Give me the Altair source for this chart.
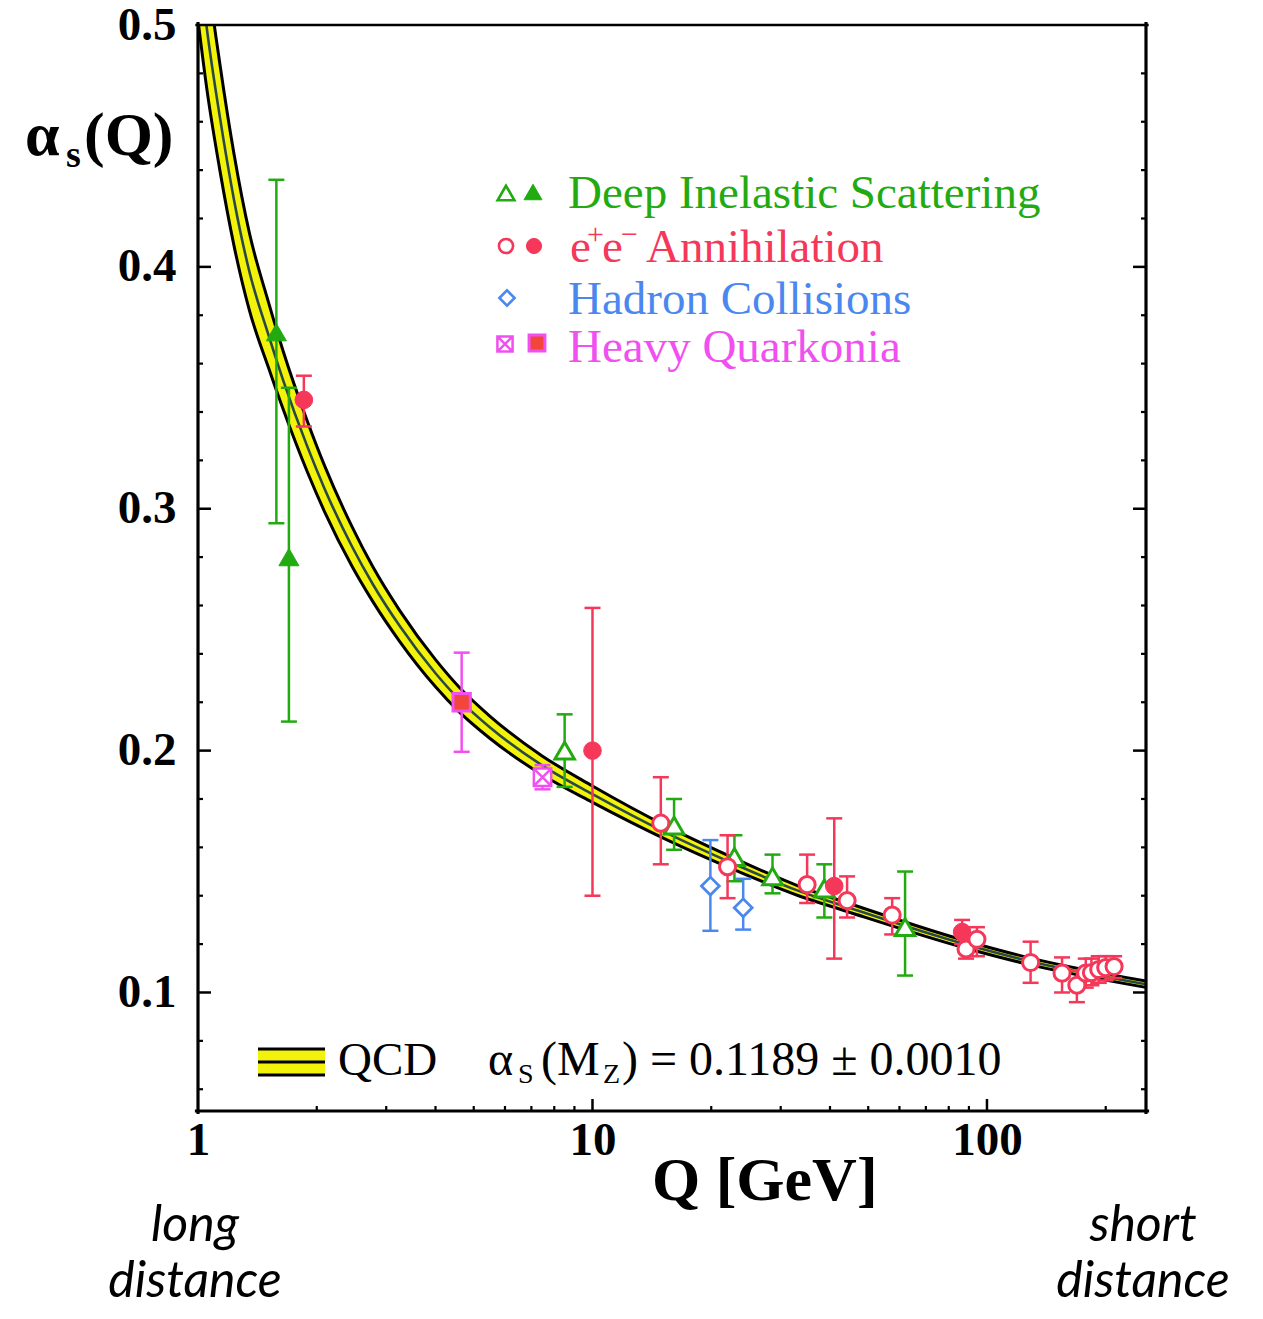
import altair as alt
import pandas as pd

W, H = 948, 1086
Q_DOMAIN = [1.0, 253.0]
A_DOMAIN = [0.051, 0.5]

GREEN = "#22aa11"
RED = "#f5385a"
BLUE = "#4a88f0"
MAGENTA = "#f050f0"
QFILL = "#f2463c"
YELLOW = "#f2f20a"
TEAL = "#2a4848"

# ---- QCD band ----
curve_q = [1.0, 1.052, 1.136, 1.233, 1.35, 1.508, 1.645, 1.89, 2.097, 2.455, 2.77, 3.25,
           4.0, 4.6, 5.5, 7.47, 10.0, 15.4, 22.6, 33.3, 43.8, 88.5, 129.0, 253.0]
curve_alpha = [0.530, 0.499, 0.462, 0.428, 0.398, 0.372, 0.353, 0.326, 0.308, 0.2845, 0.269, 0.2514,
               0.232, 0.221, 0.2096, 0.1938, 0.182, 0.166, 0.1535, 0.1420, 0.1355, 0.1198, 0.1128, 0.1034]
curve_err = [0.028, 0.025, 0.022, 0.019, 0.016, 0.0135, 0.012, 0.0105, 0.0095, 0.0082, 0.0072, 0.0064,
             0.0056, 0.0051, 0.0046, 0.0039, 0.0034, 0.0028, 0.0024, 0.0020, 0.0018, 0.0015, 0.0014, 0.0013]

# ---- Deep Inelastic Scattering ----
dis_q = [1.58, 1.70, 8.5, 16.1, 22.9, 28.6, 38.7, 62.0]
dis_a = [0.373, 0.280, 0.200, 0.169, 0.156, 0.148, 0.143, 0.127]
dis_lo = [0.294, 0.212, 0.185, 0.159, 0.146, 0.141, 0.131, 0.107]
dis_hi = [0.436, 0.350, 0.215, 0.180, 0.165, 0.157, 0.153, 0.150]
dis_filled = [True, True, False, False, False, False, False, False]

# ---- e+e- Annihilation ----
ee_q = [1.855, 10.0, 41.0, 86.5, 14.9, 22.0, 35.0, 44.2, 57.5, 88.5, 94.3,
        129.0, 155.0, 169.0, 178.0, 184.0, 192.0, 200.0, 210.0]
ee_a = [0.345, 0.200, 0.144, 0.125, 0.170, 0.152, 0.1446, 0.138, 0.132, 0.118, 0.122,
        0.1124, 0.108, 0.103, 0.108, 0.1082, 0.1095, 0.1103, 0.1107]
ee_lo = [0.334, 0.140, 0.114, 0.120, 0.153, 0.139, 0.137, 0.131, 0.124, 0.114, 0.115,
         0.104, 0.100, 0.096, 0.102, 0.103, 0.104, 0.105, 0.106]
ee_hi = [0.355, 0.259, 0.172, 0.130, 0.189, 0.165, 0.157, 0.148, 0.139, 0.122, 0.127,
         0.121, 0.1145, 0.109, 0.114, 0.114, 0.115, 0.115, 0.115]
ee_filled = [True, True, True, True] + [False] * 15

# ---- Hadron Collisions ----
had_q = [19.9, 24.1]
had_a = [0.144, 0.135]
had_lo = [0.1255, 0.126]
had_hi = [0.163, 0.147]

# ---- Heavy Quarkonia ----
hq_q = [4.66, 7.47]
hq_a = [0.220, 0.189]
hq_lo = [0.1995, 0.184]
hq_hi = [0.2405, 0.194]
hq_filled = [True, False]

# ---- tick positions ----
x_major_ticks = [10, 100]
x_minor_ticks = [2, 3, 4, 5, 6, 7, 8, 9, 20, 30, 40, 50, 60, 70, 80, 90, 200]
x_labels = [1, 10, 100]
y_major_ticks = [0.1, 0.2, 0.3, 0.4]
y_minor_ticks = [0.06, 0.08, 0.12, 0.14, 0.16, 0.18, 0.22, 0.24, 0.26, 0.28,
                 0.32, 0.34, 0.36, 0.38, 0.42, 0.44, 0.46, 0.48]
y_labels = [0.1, 0.2, 0.3, 0.4, 0.5]

SERIF = "Liberation Serif"

xs = alt.Scale(type="log", domain=Q_DOMAIN, nice=False)
ys = alt.Scale(domain=A_DOMAIN, nice=False, zero=False)
xa = alt.Axis(values=x_labels, format=".0f", ticks=False, domain=False, grid=False,
              labelFont=SERIF, labelFontWeight="bold", labelFontSize=47, labelColor="black",
              labelPadding=6, labelFlush=False, labelOverlap=False, title=None)
ya = alt.Axis(values=y_labels, format=".1f", ticks=False, domain=False, grid=False,
              labelFont=SERIF, labelFontWeight="bold", labelFontSize=47, labelColor="black",
              labelPadding=22, labelFlush=False, labelOverlap=False, title=None)


def X(f):
    return alt.X(f, type="quantitative", scale=xs, axis=xa)


def Y(f):
    return alt.Y(f, type="quantitative", scale=ys, axis=ya)


curve = pd.DataFrame({"q": curve_q, "a": curve_alpha, "e": curve_err})
curve["lo"] = curve["a"] - curve["e"]
curve["hi"] = curve["a"] + curve["e"]

dis = pd.DataFrame({"q": dis_q, "a": dis_a, "lo": dis_lo, "hi": dis_hi, "f": dis_filled})
ee = pd.DataFrame({"q": ee_q, "a": ee_a, "lo": ee_lo, "hi": ee_hi, "f": ee_filled})
had = pd.DataFrame({"q": had_q, "a": had_a, "lo": had_lo, "hi": had_hi})
hq = pd.DataFrame({"q": hq_q, "a": hq_a, "lo": hq_lo, "hi": hq_hi, "f": hq_filled})

layers = []

# band
layers.append(alt.Chart(curve).mark_area(color=YELLOW, opacity=1, clip=True, interpolate="monotone")
              .encode(x=X("q"), y=Y("lo"), y2=alt.Y2("hi")))
for f in ["lo", "hi"]:
    layers.append(alt.Chart(curve).mark_line(color="black", strokeWidth=3, clip=True, interpolate="monotone")
                  .encode(x=X("q"), y=Y(f)))
layers.append(alt.Chart(curve).mark_line(color=TEAL, strokeWidth=2.6, clip=True, interpolate="monotone")
              .encode(x=X("q"), y=Y("a")))


def errbars(df, color):
    out = [alt.Chart(df).mark_rule(color=color, strokeWidth=2.5)
           .encode(x=X("q"), y=Y("lo"), y2=alt.Y2("hi"))]
    for f in ["lo", "hi"]:
        out.append(alt.Chart(df).mark_rule(color=color, strokeWidth=2.5, xOffset=-8, x2Offset=8)
                   .encode(x=X("q"), x2=alt.X2("q"), y=Y(f)))
    return out


layers += errbars(dis, GREEN)
layers += errbars(ee, RED)
layers += errbars(had, BLUE)
layers += errbars(hq, MAGENTA)

XBOX = "M-1,-1L1,-1L1,1L-1,1Z M-1,-1L1,1 M1,-1L-1,1"


def pts(df, shape, size, fill, stroke, sw=3):
    return (alt.Chart(df).mark_point(shape=shape, size=size, filled=True, fill=fill, stroke=stroke,
                                     strokeWidth=sw, opacity=1, fillOpacity=1)
            .encode(x=X("q"), y=Y("a")))


layers.append(pts(dis[~dis.f], "triangle-up", 380, "white", GREEN))
layers.append(pts(dis[dis.f], "triangle-up", 400, GREEN, GREEN, 1))
layers.append(pts(ee[~ee.f], "circle", 260, "white", RED))
layers.append(pts(ee[ee.f], "circle", 310, RED, RED, 1))
layers.append(pts(had, "diamond", 320, "white", BLUE, 2.8))
layers.append(pts(hq[hq.f], "square", 300, QFILL, MAGENTA, 3))
layers.append(pts(hq[~hq.f], XBOX, 300, "white", MAGENTA, 2.5))

# inward ticks on bottom, left and right
tx_maj = pd.DataFrame({"t": x_major_ticks})
tx_min = pd.DataFrame({"t": x_minor_ticks})
ty_maj = pd.DataFrame({"t": y_major_ticks})
ty_min = pd.DataFrame({"t": y_minor_ticks})

layers.append(alt.Chart(tx_maj).mark_rule(color="black", strokeWidth=2.5)
              .encode(x=X("t"), y=alt.value(H), y2=alt.value(H - 12)))
layers.append(alt.Chart(tx_min).mark_rule(color="black", strokeWidth=2.2)
              .encode(x=X("t"), y=alt.value(H), y2=alt.value(H - 5)))
for x0, sgn in [(0, 1), (W, -1)]:
    layers.append(alt.Chart(ty_maj).mark_rule(color="black", strokeWidth=2.5)
                  .encode(y=Y("t"), x=alt.value(x0), x2=alt.value(x0 + sgn * 13)))
    layers.append(alt.Chart(ty_min).mark_rule(color="black", strokeWidth=2.2)
                  .encode(y=Y("t"), x=alt.value(x0), x2=alt.value(x0 + sgn * 5)))

one = pd.DataFrame({"k": [0]})

# frame
frame = [
    (0, 0, -1.5, H + 1.5, 3.2),
    (W, W, -1.5, H + 1.5, 3.2),
    (-1.5, W + 1.5, H, H, 3.2),
    (-1.5, W + 1.5, 0, 0, 2.4),
]
for x1, x2, y1, y2, sw in frame:
    layers.append(alt.Chart(one).mark_rule(color="black", strokeWidth=sw, strokeCap="square")
                  .encode(x=alt.value(x1), x2=alt.value(x2), y=alt.value(y1), y2=alt.value(y2)))


def txt(s, x, y, size, color="black", font=SERIF, weight="normal", style="normal", align="left"):
    return (alt.Chart(one).mark_text(text=s, font=font, fontSize=size, fontWeight=weight, fontStyle=style,
                                     color=color, align=align, baseline="alphabetic")
            .encode(x=alt.value(x), y=alt.value(y)))


def sym(x, y, shape, size, fill, stroke, sw=2.5):
    return (alt.Chart(one).mark_point(shape=shape, size=size, filled=True, fill=fill, stroke=stroke,
                                      strokeWidth=sw, opacity=1, fillOpacity=1)
            .encode(x=alt.value(x), y=alt.value(y)))


# top legend (coordinates relative to plot origin)
layers += [
    sym(308, 168, "triangle-up", 280, "white", GREEN, 2.6),
    sym(335, 167, "triangle-up", 320, GREEN, GREEN, 1),
    sym(308, 221, "circle", 200, "white", RED, 2.6),
    sym(336, 221, "circle", 230, RED, RED, 1),
    sym(309, 273, "diamond", 230, "white", BLUE, 2.6),
    sym(307, 319, XBOX, 230, "white", MAGENTA, 2.5),
    sym(339, 318, "square", 250, QFILL, MAGENTA, 3),
    txt("Deep Inelastic Scattering", 370, 183, 47, GREEN),
    txt("e", 372, 237, 47, RED),
    txt("+", 389, 219, 30, RED),
    txt("e", 404, 237, 47, RED),
    txt("\u2212", 423, 219, 30, RED),
    txt("Annihilation", 448, 237, 47, RED),
    txt("Hadron Collisions", 370, 289, 47, BLUE),
    txt("Heavy Quarkonia", 370, 337, 47, MAGENTA),
]

# QCD swatch and text at the bottom
layers.append(alt.Chart(one).mark_rect(color=YELLOW)
              .encode(x=alt.value(60), x2=alt.value(127), y=alt.value(1024), y2=alt.value(1050)))
for yy in [1024, 1037, 1050]:
    layers.append(alt.Chart(one).mark_rule(color="black", strokeWidth=3)
                  .encode(x=alt.value(60), x2=alt.value(127), y=alt.value(yy)))
layers += [
    txt("QCD", 140, 1050, 47),
    txt("\u03b1", 290, 1050, 48),
    txt("S", 320, 1058, 28),
    txt("(M", 343, 1050, 48),
    txt("Z", 405, 1058, 28),
    txt(") = 0.1189 \u00b1 0.0010", 424, 1050, 48),
]

# axis titles
layers += [
    txt("\u03b1", -173, 130, 62, weight="bold"),
    txt("s", -132, 142, 38, weight="bold"),
    txt("(Q)", -114, 130, 62, weight="bold"),
    txt("Q [GeV]", 454, 1175, 62, weight="bold"),
]

# long / short distance
LATO = "Lato"
layers += [
    txt("long", -3, 1216, 50, font=LATO, style="italic", align="center"),
    txt("distance", -3, 1272, 50, font=LATO, style="italic", align="center"),
    txt("short", 945, 1216, 50, font=LATO, style="italic", align="center"),
    txt("distance", 945, 1272, 50, font=LATO, style="italic", align="center"),
]

chart = (alt.layer(*layers)
         .properties(width=W, height=H,
                     padding={"left": 190, "top": 17, "right": 100, "bottom": 190},
                     autosize=alt.AutoSizeParams(type="none"))
         .configure_view(strokeWidth=0)
         .configure(background="white"))

chart.save("out.html", embed_options={"renderer": "svg", "actions": False})
